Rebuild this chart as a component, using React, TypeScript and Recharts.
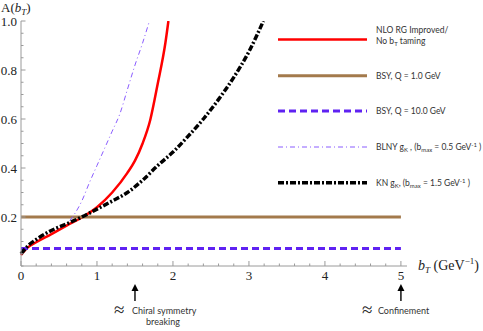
import React from 'react';
import { LineChart, Line, XAxis, YAxis } from 'recharts';

// b_T (GeV^-1) grids and A(b_T) values
const nloX = [0, 0.05, 0.1, 0.2, 0.4, 0.6, 0.8, 1.0, 1.2, 1.4, 1.5, 1.6, 1.7, 1.8, 1.9, 1.94];
const nloY = [0.045, 0.064, 0.078, 0.097, 0.13, 0.165, 0.198, 0.24, 0.3, 0.38, 0.43, 0.5, 0.595, 0.745, 0.91, 1.0];

const bsyX = [0, 5];
const bsyQ1 = [0.2, 0.2];
const bsyQ10 = [0.071, 0.071];

const blnyX = [0, 0.1, 0.2, 0.4, 0.6, 0.7, 0.8, 0.9, 1.0, 1.1, 1.2, 1.3, 1.4, 1.5, 1.6, 1.69];
const blnyY = [0.05, 0.085, 0.108, 0.145, 0.172, 0.21, 0.265, 0.34, 0.41, 0.48, 0.55, 0.62, 0.72, 0.82, 0.91, 1.0];

const knX = [0, 0.1, 0.2, 0.4, 0.6, 0.8, 1.0, 1.2, 1.4, 1.6, 1.8, 2.0, 2.2, 2.4, 2.6, 2.8, 3.0, 3.19];
const knY = [0.05, 0.085, 0.108, 0.145, 0.172, 0.2, 0.232, 0.265, 0.3, 0.35, 0.41, 0.465, 0.53, 0.6, 0.68, 0.77, 0.875, 1.0];

const xMajor = [0, 1, 2, 3, 4, 5];
const yMajor = [0.2, 0.4, 0.6, 0.8, 1.0];
const xMinor = Array.from({ length: 26 }, (_, i) => +(i * 0.2).toFixed(2));
const yMinor = Array.from({ length: 21 }, (_, i) => +(i * 0.05).toFixed(2));
const annotations = [
  { x: 1.5, lines: ['Chiral symmetry', 'breaking'] },
  { x: 5, lines: ['Confinement'] },
];

const zip = (xs: number[], ys: number[]) => xs.map((x, i) => ({ x, y: ys[i] }));

const series = [
  { key: 'nlo', data: zip(nloX, nloY), color: '#ff0000', width: 2.5, dash: undefined },
  { key: 'bsy1', data: zip(bsyX, bsyQ1), color: '#a37a4c', width: 3, dash: undefined },
  { key: 'bsy10', data: zip(bsyX, bsyQ10), color: '#5f22f2', width: 3, dash: '7 4' },
  { key: 'blny', data: zip(blnyX, blnyY), color: '#8a5cff', width: 1, dash: '5 3 1 3' },
  { key: 'kn', data: zip(knX, knY), color: '#000000', width: 3.5, dash: '6 2 2 2' },
];

const serif = '"Liberation Serif", "DejaVu Serif", serif';
const sans = 'Lato, "Open Sans", sans-serif';
const axisColor = '#9a9a9a';
const near = (a: number, b: number) => Math.abs(a - b) < 1e-6;

const xTicks = [...xMinor, ...annotations.map((a) => a.x)]
  .filter((v, i, arr) => arr.findIndex((w) => near(w, v)) === i)
  .sort((a, b) => a - b);

const XTick = (props: any) => {
  const { x, y, payload } = props;
  const v = payload.value;
  const ann = annotations.find((a) => near(a.x, v));
  const major = xMajor.some((m) => near(m, v));
  const minor = xMinor.some((m) => near(m, v));
  return (
    <g>
      {minor && <line x1={x} x2={x} y1={y} y2={y - (major ? 5 : 2.5)} stroke={axisColor} />}
      {major && (
        <text x={x} y={y + 14} textAnchor="middle" fontFamily={serif} fontSize={13} fill="#222">
          {v}
        </text>
      )}
      {ann && (
        <g>
          <line x1={x} x2={x} y1={y + 22} y2={y + 35} stroke="#000" strokeWidth={1.4} />
          <path d={`M${x - 3.5},${y + 25} L${x},${y + 18} L${x + 3.5},${y + 25} Z`} fill="#000" />
          <text x={ann.lines.length > 1 ? x - 21 : x - 39} y={y + 50} fontFamily={serif} fontSize={19} fill="#222">≈</text>
          <text x={ann.lines.length > 1 ? x - 3 : x - 23} y={y + 48} fontFamily={sans} fontSize={9} fill="#333">
            {ann.lines[0]}
          </text>
          {ann.lines[1] && (
            <text x={x + 28} y={y + 59} textAnchor="middle" fontFamily={sans} fontSize={9} fill="#333">
              {ann.lines[1]}
            </text>
          )}
        </g>
      )}
    </g>
  );
};

const YTick = (props: any) => {
  const { x, y, payload } = props;
  const v = payload.value;
  const major = yMajor.some((m) => near(m, v));
  return (
    <g>
      <line x1={x} x2={x + (major ? 4.5 : 2.5)} y1={y} y2={y} stroke={axisColor} />
      {major && (
        <text x={x - 4} y={y} dy="0.35em" textAnchor="end" fontFamily={serif} fontSize={13} fill="#222">
          {v.toFixed(1)}
        </text>
      )}
    </g>
  );
};

const legendRows = [
  { y: 39.5, color: '#ff0000', width: 2.5, dash: undefined },
  { y: 75.7, color: '#a37a4c', width: 3, dash: undefined },
  { y: 111, color: '#5f22f2', width: 3, dash: '7 4' },
  { y: 147, color: '#8a5cff', width: 1, dash: '5 3 1 3' },
  { y: 182.7, color: '#000000', width: 3.5, dash: '6 2 2 2' },
];

const sub = (t: string, after = '') => (
  <>
    <tspan dy={2} fontSize={6}>{t}</tspan>
    <tspan dy={-2}>{after}</tspan>
  </>
);
const sup = (t: string, after = '') => (
  <>
    <tspan dy={-3} fontSize={6}>{t}</tspan>
    <tspan dy={3}>{after}</tspan>
  </>
);

const Overlay = () => (
  <svg width={483} height={331} style={{ position: 'absolute', left: 0, top: 0, pointerEvents: 'none' }}>
    <text x={1} y={12} fontFamily={serif} fontSize={13} fill="#222">
      A(<tspan fontStyle="italic">b</tspan>
      <tspan dy={3} fontSize={9} fontStyle="italic">T</tspan>
      <tspan dy={-3}>)</tspan>
    </text>
    <text x={418} y={270} fontFamily={serif} fontSize={14} fill="#222">
      <tspan fontStyle="italic">b</tspan>
      <tspan dy={3} fontSize={9} fontStyle="italic">T</tspan>
      <tspan dy={-3}> (GeV</tspan>
      <tspan dy={-6} fontSize={9}>−1</tspan>
      <tspan dy={6}>)</tspan>
    </text>
    {legendRows.map((r, i) => (
      <line key={i} x1={278} x2={367} y1={r.y} y2={r.y} stroke={r.color} strokeWidth={r.width} strokeDasharray={r.dash} />
    ))}
    <g fontFamily={sans} fontSize={8.5} fill="#333">
      <text x={376} y={32.5}>NLO RG Improved/</text>
      <text x={376} y={44}>No b{sub('T', ' taming')}</text>
      <text x={376} y={78.7}>BSY, Q = 1.0 GeV</text>
      <text x={376} y={114}>BSY, Q = 10.0 GeV</text>
      <text x={376} y={150}>BLNY g{sub('K', ' , (b')}{sub('max', ' = 0.5 GeV')}{sup('-1', ' )')}</text>
      <text x={376} y={185.7}>KN g{sub('K', ', (b')}{sub('max', ' = 1.5 GeV')}{sup('-1', ' )')}</text>
    </g>
  </svg>
);

export default function App() {
  return (
    <div style={{ position: 'absolute', left: 0, top: 0, width: 483, height: 331, background: '#fff' }}>
      <LineChart width={483} height={331} margin={{ top: 21, right: 76, bottom: 0, left: 0 }}>
        <XAxis
          type="number"
          dataKey="x"
          domain={[0, 5.08]}
          ticks={xTicks}
          interval={0}
          tickSize={0}
          tickMargin={0}
          tickLine={false}
          height={65}
          stroke={axisColor}
          tick={(p: any) => <XTick {...p} />}
          allowDuplicatedCategory={false}
        />
        <YAxis
          type="number"
          dataKey="y"
          domain={[0, 1]}
          ticks={yMinor}
          interval={0}
          tickSize={0}
          tickMargin={0}
          tickLine={false}
          width={21}
          stroke={axisColor}
          allowDataOverflow
          tick={(p: any) => <YTick {...p} />}
        />
        {series.map((s) => (
          <Line
            key={s.key}
            data={s.data}
            dataKey="y"
            type="monotone"
            stroke={s.color}
            strokeWidth={s.width}
            strokeDasharray={s.dash}
            dot={false}
            isAnimationActive={false}
          />
        ))}
      </LineChart>
      <Overlay />
    </div>
  );
}
